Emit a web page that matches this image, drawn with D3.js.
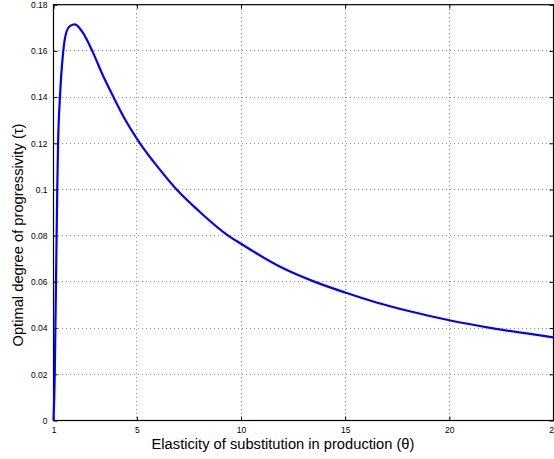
<!DOCTYPE html>
<html>
<head>
<meta charset="utf-8">
<script src="https://cdn.jsdelivr.net/npm/d3@7"></script>
<style>
  html, body { margin: 0; padding: 0; background: #fff; }
  svg { display: block; }
  text { font-family: "Liberation Sans", Arial, Helvetica, sans-serif; }
</style>
</head>
<body>
<svg id="chart" width="554" height="459"></svg>
<script>
// Data
const theta = [1, 1.06, 1.09, 1.12, 1.15, 1.18, 1.22, 1.31, 1.47, 1.63, 1.8, 2.03, 2.4, 2.86, 3.35, 3.88, 4.5, 5.15, 6, 6.91, 8, 9.3, 10, 12, 13.55, 15, 16.5, 18, 20, 22.1, 25];
const tau   = [0, 0.02, 0.04, 0.06, 0.08, 0.10, 0.12, 0.14, 0.16, 0.1685, 0.1708, 0.1715, 0.168, 0.16, 0.1498, 0.14, 0.1293, 0.12, 0.1098, 0.10, 0.0905, 0.0806, 0.0765, 0.066, 0.06, 0.0554, 0.0511, 0.0475, 0.0434, 0.0399, 0.036];
const xTicks = [1, 5, 10, 15, 20, 25];
const yTicks = [0, 0.02, 0.04, 0.06, 0.08, 0.1, 0.12, 0.14, 0.16, 0.18];
const xLabel = "Elasticity of substitution in production (θ)";
const yLabel = "Optimal degree of progressivity (τ)";

const svg = d3.select("#chart");
const L = 53.5, R = 553.5, T = 4.7, B = 420.5;
const x = d3.scaleLinear().domain([1, 25]).range([L, R]);
const y = d3.scaleLinear().domain([0, 0.18]).range([B, T]);

// grid
const grid = svg.append("g").attr("stroke", "#444").attr("stroke-width", 0.6)
  .attr("stroke-dasharray", "1,3").attr("shape-rendering", "crispEdges");
xTicks.slice(1, -1).forEach(t => grid.append("line")
  .attr("x1", x(t)).attr("x2", x(t)).attr("y1", T).attr("y2", B));
yTicks.slice(1, -1).forEach(t => grid.append("line")
  .attr("x1", L).attr("x2", R).attr("y1", y(t)).attr("y2", y(t)));

// box
svg.append("rect").attr("x", L).attr("y", T).attr("width", R - L).attr("height", B - T)
  .attr("fill", "none").attr("stroke", "#000").attr("stroke-width", 1.2);

// axes
const fmt = d => d3.format("~g")(d);
const xAxis = d3.axisBottom(x).tickValues(xTicks).tickSize(-4).tickPadding(6).tickFormat(fmt);
svg.append("g").attr("transform", `translate(0,${B})`).call(xAxis);
const xAxisTop = d3.axisTop(x).tickValues(xTicks).tickSize(-4).tickFormat("");
svg.append("g").attr("transform", `translate(0,${T})`).call(xAxisTop);
const yAxis = d3.axisLeft(y).tickValues(yTicks).tickSize(-4).tickPadding(6).tickFormat(fmt);
svg.append("g").attr("transform", `translate(${L},0)`).call(yAxis);
const yAxisR = d3.axisRight(y).tickValues(yTicks).tickSize(-4).tickFormat("");
svg.append("g").attr("transform", `translate(${R},0)`).call(yAxisR);
svg.selectAll(".domain").remove();
svg.selectAll(".tick line").attr("stroke", "#000").attr("stroke-width", 1);
svg.selectAll(".tick text").attr("font-size", 8.5).attr("fill", "#000")
  .attr("font-family", "Liberation Sans, Arial, sans-serif");

// curve
const pts = theta.map((t, i) => [t, tau[i]]);
svg.append("path").datum(pts)
  .attr("fill", "none").attr("stroke", "#0000ff").attr("stroke-width", 2.2)
  .attr("stroke-linejoin", "round")
  .attr("d", d3.line().x(d => x(d[0])).y(d => y(d[1])).curve(d3.curveMonotoneX));

// labels
svg.append("text").attr("x", 283).attr("y", 449).attr("text-anchor", "middle")
  .attr("font-size", 14.7).attr("fill", "#000").text(xLabel);
svg.append("text").attr("transform", "translate(23,235) rotate(-90)").attr("text-anchor", "middle")
  .attr("font-size", 14.7).attr("fill", "#000").text(yLabel);
</script>
</body>
</html>
